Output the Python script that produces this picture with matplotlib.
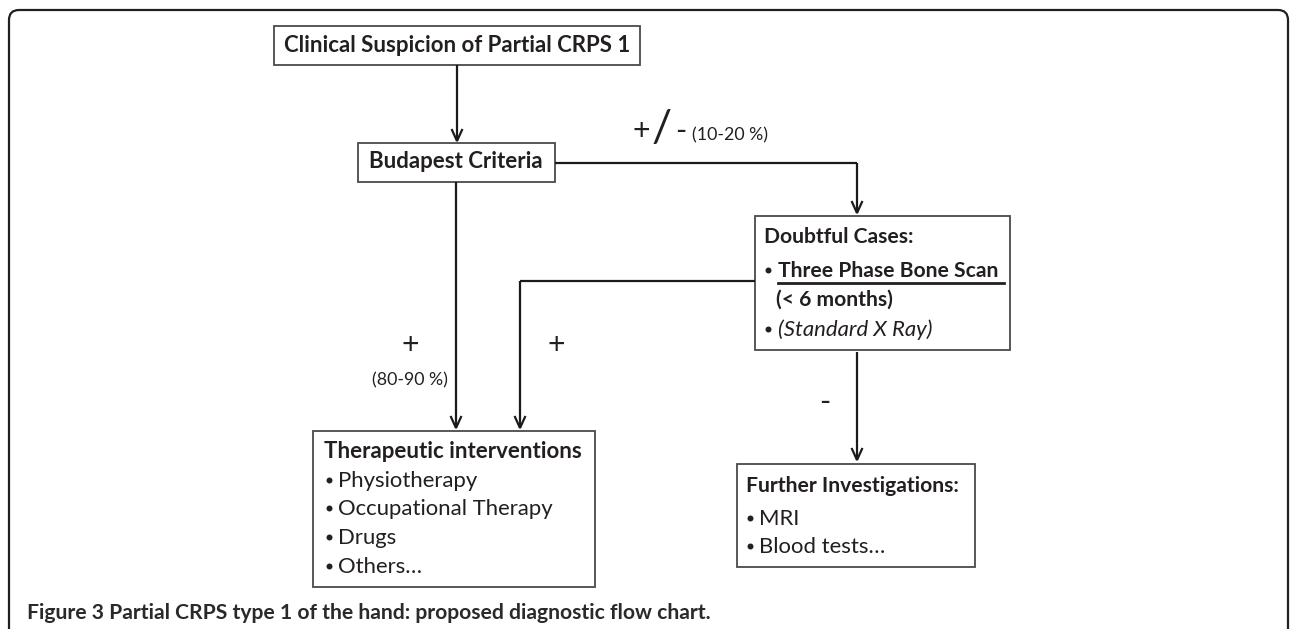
import matplotlib
matplotlib.use("Agg")
import matplotlib.pyplot as plt
from matplotlib.patches import FancyBboxPatch, Rectangle
from matplotlib.font_manager import FontProperties
from matplotlib.textpath import TextPath

# ---------------- content ----------------
top_label = "Clinical Suspicion of Partial CRPS 1"
criteria_label = "Budapest Criteria"
doubtful_title = "Doubtful Cases:"
doubtful_items = ["Three Phase Bone Scan ", "(< 6 months)", "(Standard X Ray)"]
therapy_title = "Therapeutic interventions"
therapy_items = ["Physiotherapy", "Occupational Therapy", "Drugs", "Others\u2026"]
further_title = "Further Investigations:"
further_items = ["MRI", "Blood tests\u2026"]
edge_pm = ["+", "/", "-", "(10-20 %)"]
edge_plus = ["+", "(80-90 %)"]
edge_plus2 = "+"
edge_minus = "-"
caption_text = "Figure 3 Partial CRPS type 1 of the hand: proposed diagnostic flow chart."

W, H = 1290, 629
DPI = 100
FONT = "Lato"
TXT = "#231f20"
EDGE = "#4a4a4a"

fig = plt.figure(figsize=(W / DPI, H / DPI), dpi=DPI)
ax = fig.add_axes([0, 0, 1, 1])
ax.set_xlim(0, W)
ax.set_ylim(H, 0)
ax.axis("off")


def px_width(text, size, weight="normal", style="normal"):
    fp = FontProperties(family=FONT, weight=weight, style=style, size=size)
    tp = TextPath((0, 0), text, prop=fp)
    bb = tp.get_extents()
    return bb.width * DPI / 72.0


def fit(text, target, weight="normal", style="normal"):
    return 10 * target / px_width(text, 10, weight, style)


S_BOLD = fit(therapy_title, 256, "bold")
S_REG = fit(therapy_items[1], 214)
S_CAP = fit(caption_text, 680, "bold")
S_RB = S_BOLD * 0.95


def box(x0, y0, x1, y1, lw=1.3):
    ax.add_patch(Rectangle((x0, y0), x1 - x0, y1 - y0, fill=False,
                           edgecolor=EDGE, linewidth=lw))


def line(xs, ys):
    ax.plot(xs, ys, color="#1a1a1a", linewidth=1.6, solid_capstyle="butt")


def arrow_down(x, y0, y1):
    line([x, x], [y0, y1])
    ax.plot([x - 5, x, x + 5], [y1 - 11, y1, y1 - 11], color="#1a1a1a",
            linewidth=1.6, solid_joinstyle="miter")


def txt(x, y, s, size, weight="normal", style="normal", ha="left", color=TXT):
    return ax.text(x, y, s, fontsize=size, fontweight=weight, fontstyle=style,
                   family=FONT, ha=ha, va="center", color=color)


def bullet(x, y):
    ax.plot([x], [y - 1], marker="o", markersize=4.3, color=TXT,
            markeredgewidth=0)


# outer frame (open at bottom)
ax.add_patch(FancyBboxPatch((9, 10), 1279, 660,
                            boxstyle="round,pad=0,rounding_size=10",
                            fill=False, edgecolor="#231f20", linewidth=1.6,
                            clip_on=True))

# top box
box(274, 26, 640, 65)
txt(457, 45, top_label, S_BOLD, "bold", ha="center")

# criteria box
box(358, 143, 555, 182)
txt(456, 162, criteria_label, S_BOLD, "bold", ha="center")

arrow_down(457, 65, 141)

# criteria -> doubtful
line([555, 857], [163, 163])
arrow_down(857, 163, 213)
txt(641, 131, edge_pm[0], S_BOLD * 1.35, ha="center")
txt(662, 130, edge_pm[1], S_BOLD * 2.0, ha="center")
txt(681, 131, edge_pm[2], S_BOLD * 1.35, ha="center")
txt(692, 135, edge_pm[3], S_REG * 0.8)

# criteria -> therapy
arrow_down(456, 182, 428)
txt(410, 345, edge_plus[0], S_BOLD * 1.35, ha="center")
txt(410, 380, edge_plus[1], S_REG * 0.8, ha="center")

# doubtful box
box(755, 216, 1010, 350)
txt(764, 237, doubtful_title, S_RB, "bold")
bullet(768, 271)
t = txt(778, 271, doubtful_items[0], S_RB, "bold")
txt(776, 300, doubtful_items[1], S_RB, "bold")
bullet(768, 330)
txt(778, 330, doubtful_items[2], S_REG, style="italic")

# underline
fig.canvas.draw()
bb = t.get_window_extent(renderer=fig.canvas.get_renderer())
ax.plot([778, 778 + bb.width], [283, 283], color=TXT, linewidth=2.0)

# doubtful -> therapy
line([755, 520], [281, 281])
arrow_down(520, 281, 428)
txt(556, 345, edge_plus2, S_BOLD * 1.35, ha="center")

# doubtful -> further
arrow_down(857, 352, 460)
txt(825, 402, edge_minus, S_BOLD * 1.35, ha="center")

# therapy box
box(313, 431, 595, 587)
txt(324, 452, therapy_title, S_BOLD, "bold")
ys = [481, 509, 538, 567]
for y, item in zip(ys, therapy_items):
    bullet(329, y)
    txt(338, y, item, S_REG)

# further box
box(737, 464, 975, 567)
txt(746, 486, further_title, S_RB, "bold")
for y, item in zip([519, 547], further_items):
    bullet(750, y)
    txt(759, y, item, S_REG)

# caption
ax.text(27, 613, caption_text, fontsize=S_CAP, fontweight="bold", family=FONT,
        ha="left", va="center", color="#2a2a2a")

fig.savefig("out.png", dpi=DPI)
